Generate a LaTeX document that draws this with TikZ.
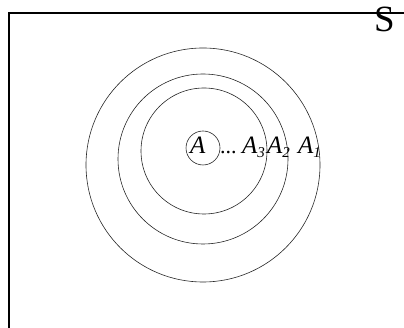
\documentclass[tikz,border=0pt]{standalone}
\usepackage{fontspec}
\setmainfont{Liberation Serif}
\newcommand{\subd}[1]{\raisebox{-3.5pt}{\fontsize{15}{15}\selectfont #1}}
\begin{document}
\begin{tikzpicture}[x=1pt,y=1pt,
  ring/.style={draw,line width=0.6pt,black!85},
  lbl/.style={anchor=base west,inner sep=0pt,font=\fontsize{25}{25}\selectfont\itshape}]
\useasboundingbox (0,0) rectangle (404,328);
\coordinate (fb) at (9,0);
\coordinate (fc) at (9,315);
\coordinate (fr) at (404,315);
\draw[line width=1.2pt] (fb) -- (fc) -- (fr);
\node[font=\fontsize{37}{37}\selectfont,inner sep=0pt,anchor=base west] (S) at (374,296) {S};
\draw[ring] (203,163) circle[radius=117];
\draw[ring] (203,169) circle[radius=85];
\draw[ring] (204,177) circle[radius=63];
\draw[ring] (203,180) circle[radius=17];
\node[lbl] (a0) at (190,174) {A};
\node[lbl,font=\fontsize{22}{22}\selectfont] (dots) at (220,174) {...};
\node[lbl] (a3) at (242,174) {A\subd{3}};
\node[lbl] (a2) at (267,174) {A\subd{2}};
\node[lbl] (a1) at (298,174) {A\subd{1}};
\end{tikzpicture}
\end{document}
